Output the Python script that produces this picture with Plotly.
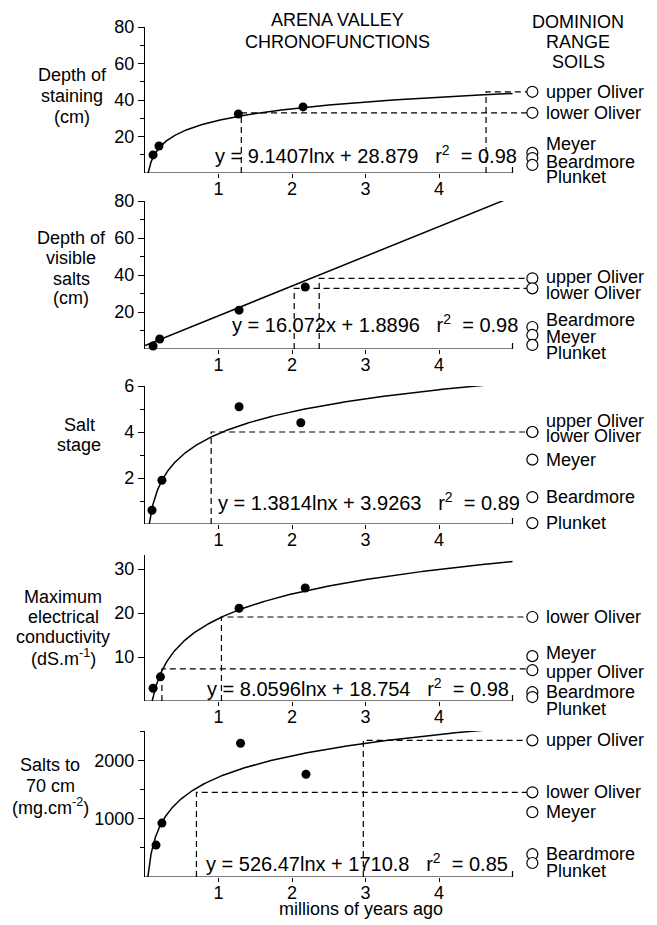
import numpy as np
import plotly.graph_objects as go

# ---------------- data ----------------
panel_titles = [["Depth of", "staining", "(cm)"],
                ["Depth of", "visible", "salts", "(cm)"],
                ["Salt", "stage"],
                ["Maximum", "electrical", "conductivity", "(dS.m<sup>-1</sup>)"],
                ["Salts to", "70 cm", "(mg.cm<sup>-2</sup>)"]]
header_left = ["ARENA VALLEY", "CHRONOFUNCTIONS"]
header_right = ["DOMINION", "RANGE", "SOILS"]
x_title = "millions of years ago"

# Arena Valley chronofunction samples (age in Myr, value)
stain_x = [0.11, 0.19, 1.27, 2.15]
stain_y = [9.9, 14.8, 32.3, 36.2]
vis_x = [0.11, 0.20, 1.28, 2.18]
vis_y = [1.6, 5.4, 21.0, 33.5]
stage_x = [0.095, 0.23, 1.28, 2.12]
stage_y = [0.6, 1.9, 5.1, 4.4]
ec_x = [0.11, 0.21, 1.28, 2.18]
ec_y = [2.9, 5.5, 21.1, 25.7]
s70_x = [0.15, 0.23, 1.30, 2.19]
s70_y = [547, 923, 2290, 1760]

# regression fits: kind, slope, intercept, r2
fit_kind = ["log", "lin", "log", "log", "log"]
fit_a = [9.1407, 16.072, 1.3814, 8.0596, 526.47]
fit_b = [28.879, 1.8896, 3.9263, 18.754, 1710.8]
fit_r2 = [0.98, 0.98, 0.89, 0.98, 0.85]

# Dominion Range soils (value on each chronofunction)
soil_names = [
    ["upper Oliver", "lower Oliver", "Meyer", "Beardmore", "Plunket"],
    ["upper Oliver", "lower Oliver", "Beardmore", "Meyer", "Plunket"],
    ["upper Oliver", "lower Oliver", "Meyer", "Beardmore", "Plunket"],
    ["lower Oliver", "Meyer", "upper Oliver", "Beardmore", "Plunket"],
    ["upper Oliver", "lower Oliver", "Meyer", "Beardmore", "Plunket"],
]
soil_vals = [
    [44.5, 33.0, 11.0, 8.2, 4.4],
    [38.2, 32.8, 11.9, 7.6, 2.2],
    [4.0, 4.0, 2.8, 1.17, 0.04],
    [19.1, 10.2, 7.0, 2.0, 0.9],
    [2340, 1450, 1110, 390, 240],
]
# vertical nudge of each soil label (pixels, + = up) to avoid overlaps
soil_label_dy = [
    [0, 0, 9, -4, -12],
    [1, -5, 7, -2, -8],
    [11, -4, 0, 0, 0],
    [0, 3, -2, 0, -12],
    [0, 0, 0, 0, -8],
]
# projections of soils onto the fitted curves (age, value)
proj_x = [[1.31, 4.64], [2.03, 2.37], [0.9], [1.04, 0.23], [0.7, 2.97]]
proj_y = [[33.0, 44.5], [32.8, 38.2], [4.0], [19.1, 7.3], [1450, 2340]]

y_ranges = [[0, 80], [0, 80], [0, 6], [0, 33.2], [0, 2500]]
y_major = [[20, 40, 60, 80], [20, 40, 60, 80], [2, 4, 6], [10, 20, 30], [1000, 2000]]
y_minor = [[10, 30, 50, 70], [10, 30, 50, 70], [1, 3, 5], [], [500, 1500, 2500]]
x_ticks = [1, 2, 3, 4]
x_end = 5
soil_x = 5.27
label_x = 5.43

xs_data = [stain_x, vis_x, stage_x, ec_x, s70_x]
ys_data = [stain_y, vis_y, stage_y, ec_y, s70_y]

# ---------------- layout geometry (pixels of the 657x925 page) ----------------
OFF = 8                      # page body margin
W, H = 657 - OFF, 925 - OFF  # figure size
x0_px, px_per_unit = 145, 73.5
zero_px = [173, 349, 524, 701, 877]
top_px = [27, 201, 386, 555, 731]
title_x = [72, 71, 79, 63, 50]
title_y = [[75, 96, 117], [238, 258, 279, 298], [425, 445],
           [597, 617, 637, 657], [765, 786, 806]]
eq_pos = [(213, 155), (230, 323), (216, 502), (205, 687), (204, 862)]


def px(x):
    return (x - OFF) / W


def py(y):
    return 1 - (y - OFF) / H


FONT = "Liberation Sans, Arial, Helvetica, sans-serif"
fig = go.Figure()
layout = dict(width=W, height=H, margin=dict(l=0, r=0, t=0, b=0, pad=0),
              autosize=False,
              paper_bgcolor="white", plot_bgcolor="white", showlegend=False,
              font=dict(family=FONT, size=17, color="black"))
annotations = []
shapes = []
xdom = [px(x0_px), 1.0]
xrange_ = [0, (657 - x0_px) / px_per_unit]
dash = "6px,4px"


def paper_text(text, x, y, size=18, anchor="center"):
    annotations.append(dict(x=px(x), y=py(y), xref="paper", yref="paper",
                            text=text, showarrow=False, xanchor=anchor,
                            yanchor="middle", font=dict(size=size)))


for i in range(5):
    sfx = "" if i == 0 else str(i + 1)
    xa, ya = "x" + sfx, "y" + sfx
    layout["xaxis" + sfx] = dict(domain=xdom, range=xrange_, anchor=ya,
                                 automargin=False,
                                 showgrid=False, zeroline=False, showline=False,
                                 tickvals=x_ticks, ticks="outside", ticklen=4,
                                 tickcolor="black", tickwidth=1.2,
                                 ticklabelstandoff=-5,
                                 tickfont=dict(size=18), fixedrange=True)
    layout["yaxis" + sfx] = dict(domain=[py(zero_px[i]), py(top_px[i])],
                                 range=y_ranges[i], anchor=xa,
                                 automargin=False,
                                 showgrid=False, zeroline=False, showline=True,
                                 linecolor="black", linewidth=1.2,
                                 tickvals=y_major[i], ticks="outside", ticklen=6,
                                 tickcolor="black", tickwidth=1.2,
                                 tickfont=dict(size=18),
                                 minor=dict(tickvals=y_minor[i], ticks="outside",
                                            ticklen=4, tickcolor="black"),
                                 fixedrange=True)
    # x baseline and end tick
    shapes.append(dict(type="line", xref=xa, yref=ya, x0=0, x1=x_end, y0=0, y1=0,
                       line=dict(color="black", width=1.2)))
    shapes.append(dict(type="line", xref=xa, yref=ya, x0=x_end, x1=x_end,
                       ysizemode="pixel", yanchor=0, y0=0, y1=6,
                       line=dict(color="black", width=1.2)))

    # fitted curve
    a, b = fit_a[i], fit_b[i]
    if fit_kind[i] == "log":
        xstart = np.exp(-b / a)
        cx = np.geomspace(xstart, x_end, 400)
        cy = a * np.log(cx) + b
    else:
        cx = np.linspace(0, x_end, 50)
        cy = a * cx + b
    fig.add_trace(go.Scatter(x=cx, y=cy, mode="lines", xaxis=xa, yaxis=ya,
                             line=dict(color="black", width=1.5),
                             cliponaxis=False, hoverinfo="skip"))

    # dashed projection lines
    for p_x, p_y in zip(proj_x[i], proj_y[i]):
        fig.add_trace(go.Scatter(x=[p_x, p_x, soil_x], y=[0, p_y, p_y], mode="lines",
                                 xaxis=xa, yaxis=ya, cliponaxis=False,
                                 line=dict(color="black", width=1.2, dash=dash),
                                 hoverinfo="skip"))

    # Arena Valley samples
    fig.add_trace(go.Scatter(x=xs_data[i], y=ys_data[i], mode="markers",
                             xaxis=xa, yaxis=ya, cliponaxis=False,
                             marker=dict(color="black", size=9)))

    # Dominion Range soils
    fig.add_trace(go.Scatter(x=[soil_x] * len(soil_vals[i]), y=soil_vals[i],
                             mode="markers", xaxis=xa, yaxis=ya, cliponaxis=False,
                             marker=dict(symbol="circle", color="white", size=11,
                                         line=dict(color="black", width=1.2))))
    for name, v, dy in zip(soil_names[i], soil_vals[i], soil_label_dy[i]):
        annotations.append(dict(x=label_x, y=v, xref=xa, yref=ya, text=name,
                                yshift=dy, showarrow=False, xanchor="left",
                                yanchor="middle", font=dict(size=18)))

    # panel title (one annotation per line)
    for line, ty in zip(panel_titles[i], title_y[i]):
        paper_text(line, title_x[i], ty)

    # equation
    if fit_kind[i] == "log":
        eq = f"y = {a}lnx + {b}"
    else:
        eq = f"y = {a}x + {b}"
    eq += f"\u00a0\u00a0\u00a0r<sup>2</sup>\u00a0\u00a0= {fit_r2[i]}"
    ex, ey = eq_pos[i]
    paper_text(eq, ex, ey, size=20, anchor="left")

for line, ty in zip(header_left, [20, 42]):
    paper_text(line, 337, ty)
for line, ty in zip(header_right, [22, 42, 62]):
    paper_text(line, 578, ty)
paper_text(x_title, 361, 909)

layout["annotations"] = annotations
layout["shapes"] = shapes
fig.update_layout(**layout)
fig.write_html("out.html")
